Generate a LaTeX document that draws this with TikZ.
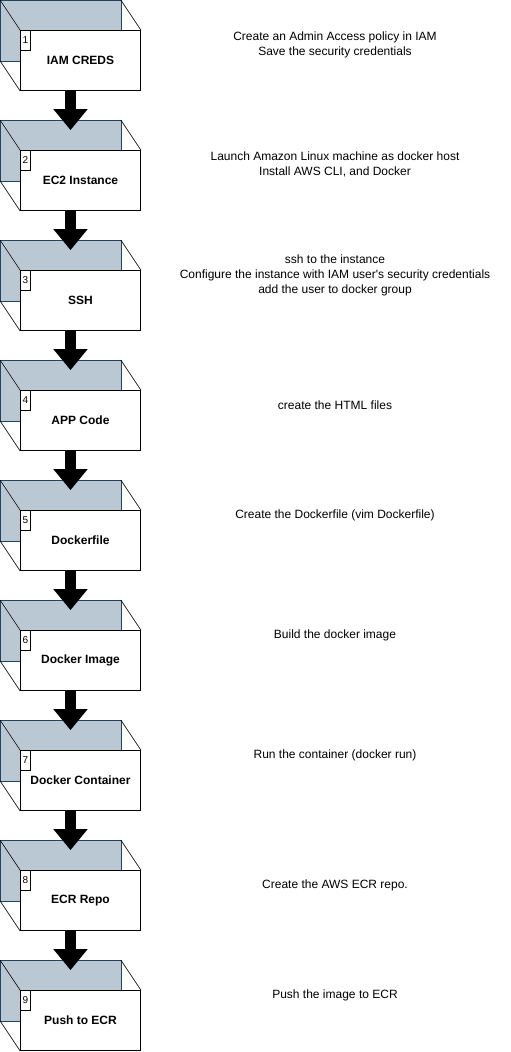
\documentclass[tikz,border=0pt]{standalone}
\usepackage{fontspec}
\setmainfont{Liberation Sans}
\usetikzlibrary{%
  arrows.meta,%
  calc,%
  positioning,% wg. " of "
  backgrounds%
}
\definecolor{facegray}{HTML}{BAC8D3}
\definecolor{faceline}{HTML}{23445D}

\begin{document}
\begin{tikzpicture}[x=1pt,y=1pt,node distance=120pt]
       \tikzset{stepbox/.style={rectangle, minimum width=120pt, minimum height=60pt,
                inner sep=0pt, draw, fill=white, line width=0.8pt, font=\fontsize{12}{14}\selectfont\bfseries}}

       \tikzset{stepnum/.style={rectangle, anchor=north west, minimum width=10pt,
                minimum height=20pt, inner sep=0pt, draw, fill=white, line width=0.6pt, font=\fontsize{10}{10}\selectfont}}

       \tikzset{note/.style={align=center, font=\fontsize{12}{15}\selectfont}}

       \tikzset{flow/.style={line width=11pt, -{Triangle[width=33pt,length=21pt]}}}

        \useasboundingbox (0,0) rectangle (511,-1052);

        \node[stepbox] (s1) at (80.5,-60.5) {IAM CREDS};
        \node[stepbox, below of = s1] (s2) {EC2 Instance};
        \node[stepbox, below of = s2] (s3) {SSH};
        \node[stepbox, below of = s3] (s4) {APP Code};
        \node[stepbox, below of = s4] (s5) {Dockerfile};
        \node[stepbox, below of = s5] (s6) {Docker Image};
        \node[stepbox, below of = s6] (s7) {Docker Container};
        \node[stepbox, below of = s7] (s8) {ECR Repo};
        \node[stepbox, below of = s8] (s9) {Push to ECR};

        \foreach \i in {1,...,9}
          \node[stepnum] (n\i) at (s\i.north west) {\i};

        % back faces of the boxes
        \begin{scope}[on background layer]
          \foreach \i in {1,...,9}{
            \draw[faceline, fill=facegray, line width=0.8pt]
              ($(s\i.south west)+(-20,30)$) rectangle ($(s\i.north east)+(-20,30)$);
            \draw[line width=0.6pt]
              ($(s\i.north west)+(-20,30)$) -- (s\i.north west)
              ($(s\i.north east)+(-20,30)$) -- (s\i.north east)
              ($(s\i.south west)+(-20,30)$) -- (s\i.south west);
          }
        \end{scope}

        \node[note] (t1) at (335,-44.5) {Create an Admin Access policy in IAM\\Save the security credentials};
        \node[note] (t2) at (335,-164.5) {Launch Amazon Linux machine as docker host\\Install AWS CLI, and Docker};
        \node[note] (t3) at (335,-275) {ssh to the instance\\Configure the instance with IAM user\textquotesingle s security credentials\\add the user to docker group};
        \node[note] (t4) at (335,-405) {create the HTML files};
        \node[note] (t5) at (335,-515) {Create the Dockerfile (vim Dockerfile)};
        \node[note] (t6) at (335,-635) {Build the docker image};
        \node[note] (t7) at (335,-755) {Run the container (docker run)};
        \node[note] (t8) at (335,-885) {Create the AWS ECR repo.};
        \node[note] (t9) at (335,-995) {Push the image to ECR};

        \foreach \i [count=\j from 2] in {1,...,8}
          \draw[flow] ([xshift=-10pt]s\i.south) -- ([xshift=-10pt,yshift=20pt]s\j.north);

   \end{tikzpicture}
\end{document}
